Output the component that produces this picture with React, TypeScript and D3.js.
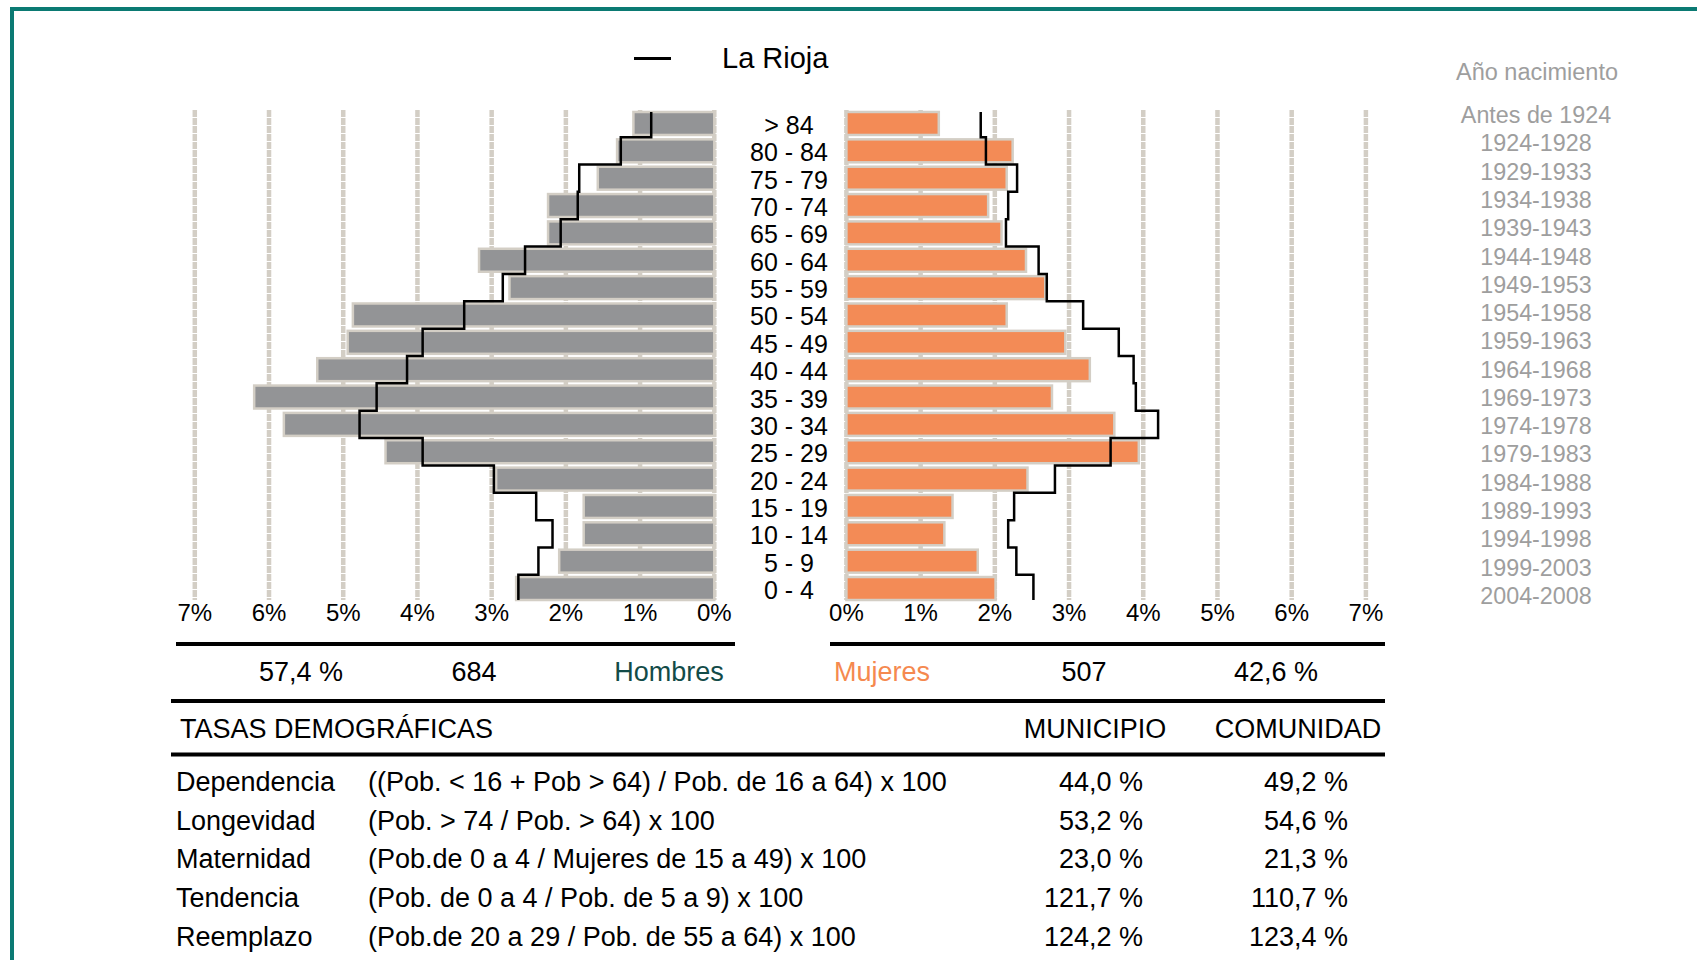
import React from "react";
import * as d3 from "d3";

const ages = ["> 84","80 - 84","75 - 79","70 - 74","65 - 69","60 - 64","55 - 59","50 - 54","45 - 49","40 - 44","35 - 39","30 - 34","25 - 29","20 - 24","15 - 19","10 - 14","5 - 9","0 - 4"];
const birthYears = ["Antes de 1924","1924-1928","1929-1933","1934-1938","1939-1943","1944-1948","1949-1953","1954-1958","1959-1963","1964-1968","1969-1973","1974-1978","1979-1983","1984-1988","1989-1993","1994-1998","1999-2003","2004-2008"];
const male = [1.09,1.31,1.57,2.24,2.24,3.17,2.76,4.87,4.94,5.35,6.20,5.80,4.43,2.94,1.76,1.76,2.09,2.67];
const female = [1.245,2.24,2.16,1.91,2.09,2.42,2.68,2.16,2.95,3.28,2.77,3.61,3.94,2.44,1.43,1.32,1.77,2.01];
const maleRef = [0.85,1.26,1.82,1.84,2.07,2.55,2.85,3.37,3.93,4.14,4.55,4.78,3.93,2.97,2.40,2.18,2.37,2.64];
const femaleRef = [1.81,1.88,2.30,2.18,2.15,2.59,2.70,3.19,3.67,3.87,3.90,4.20,3.56,2.81,2.26,2.18,2.29,2.52];
const ticks = [0,1,2,3,4,5,6,7];
const refName = "La Rioja";
const summaryMale = { pct: "57,4 %", count: "684", label: "Hombres" };
const summaryFemale = { pct: "42,6 %", count: "507", label: "Mujeres" };
const rateNames = ["Dependencia","Longevidad","Maternidad","Tendencia","Reemplazo"];
const rateFormulas = ["((Pob. < 16 + Pob > 64) / Pob. de 16 a 64) x 100","(Pob. > 74 / Pob. > 64) x 100","(Pob.de 0 a 4 / Mujeres de 15 a 49) x 100","(Pob. de 0 a 4 / Pob. de 5 a 9) x 100","(Pob.de 20 a 29 / Pob. de 55 a 64) x 100"];
const rateMunicipio = ["44,0 %","53,2 %","23,0 %","121,7 %","124,2 %"];
const rateComunidad = ["49,2 %","54,6 %","21,3 %","110,7 %","123,4 %"];

const FONT = "'Liberation Sans', Arial, Helvetica, sans-serif";
const TEAL = "#0b7a73";
const GRID = "#d3cec5";
const GRAY = "#939496";
const ORANGE = "#f38b56";

export default function App() {
  const W = 1697, H = 960;
  const xL = d3.scaleLinear().domain([0, 7]).range([714.3, 194.8]);
  const xR = d3.scaleLinear().domain([0, 7]).range([846.4, 1365.9]);
  const y = d3.scaleBand<string>().domain(ages).range([109.8, 602.2]).paddingInner(0.16).paddingOuter(0.08);
  const yYear = d3.scalePoint<string>().domain(birthYears).range([114.7, 595.3]);
  const bw = y.bandwidth();
  const step = y.step();

  const stepPath = (vals: number[], xs: d3.ScaleLinear<number, number>) => {
    const pts: [number, number][] = [];
    vals.forEach((v, i) => {
      const c = (y(ages[i]) as number) + bw / 2;
      const top = i === 0 ? (y(ages[i]) as number) : c - step / 2;
      const bot = i === vals.length - 1 ? (y(ages[i]) as number) + bw : c + step / 2;
      pts.push([xs(v), top]);
      pts.push([xs(v), bot]);
    });
    return d3.line()(pts) as string;
  };

  const gridTop = 110, gridBot = 600;
  const tickY = 621;
  const fs = 27;

  return (
    <div style={{ position: "absolute", left: 0, top: 0 }}>
      <svg width={W} height={H} style={{ display: "block", background: "#fff" }} fontFamily={FONT}>
        <rect x={10} y={7} width={W - 10} height={4} fill={TEAL} />
        <rect x={10} y={7} width={4} height={H - 7} fill={TEAL} />

        <line x1={634} x2={671} y1={58.5} y2={58.5} stroke="#000" strokeWidth={3} />
        <text x={722} y={68} fontSize={29} fill="#000">{refName}</text>

        {ticks.map(t => (
          <g key={"g" + t}>
            <line x1={xL(t)} x2={xL(t)} y1={gridTop} y2={gridBot} stroke={GRID} strokeWidth={4.5} strokeDasharray="7 1" />
            <line x1={xR(t)} x2={xR(t)} y1={gridTop} y2={gridBot} stroke={GRID} strokeWidth={4.5} strokeDasharray="7 1" />
          </g>
        ))}

        {ages.map((a, i) => (
          <g key={"b" + a}>
            <rect x={xL(male[i])} y={y(a)} width={xL(0) - xL(male[i])} height={bw} fill={GRAY} stroke={GRID} strokeWidth={2.5} />
            <rect x={xR(0)} y={y(a)} width={xR(female[i]) - xR(0)} height={bw} fill={ORANGE} stroke={GRID} strokeWidth={2.5} />
            <text x={789} y={(y(a) as number) + bw / 2 + 10.5} fontSize={25} textAnchor="middle" fill="#000">{a}</text>
          </g>
        ))}

        <path d={stepPath(maleRef, xL)} fill="none" stroke="#000" strokeWidth={2.5} />
        <path d={stepPath(femaleRef, xR)} fill="none" stroke="#000" strokeWidth={2.5} />

        {ticks.map(t => (
          <g key={"t" + t}>
            <text x={xL(t)} y={tickY} fontSize={24} textAnchor="middle" fill="#000">{t + "%"}</text>
            <text x={xR(t)} y={tickY} fontSize={24} textAnchor="middle" fill="#000">{t + "%"}</text>
          </g>
        ))}

        <text x={1537} y={79.5} fontSize={23.5} textAnchor="middle" fill="#9e9e9e">Año nacimiento</text>
        {birthYears.map(b => (
          <text key={b} x={1536} y={(yYear(b) as number) + 8.5} fontSize={23.3} textAnchor="middle" fill="#9e9e9e">{b}</text>
        ))}

        <line x1={176} x2={735} y1={644} y2={644} stroke="#000" strokeWidth={4} />
        <line x1={830} x2={1385} y1={644} y2={644} stroke="#000" strokeWidth={4} />
        <text x={301} y={680.5} fontSize={fs} textAnchor="middle" fill="#000">{summaryMale.pct}</text>
        <text x={474} y={680.5} fontSize={fs} textAnchor="middle" fill="#000">{summaryMale.count}</text>
        <text x={669} y={680.5} fontSize={fs} textAnchor="middle" fill="#124b48">{summaryMale.label}</text>
        <text x={882} y={680.5} fontSize={fs} textAnchor="middle" fill="#f5894f">{summaryFemale.label}</text>
        <text x={1084} y={680.5} fontSize={fs} textAnchor="middle" fill="#000">{summaryFemale.count}</text>
        <text x={1276} y={680.5} fontSize={fs} textAnchor="middle" fill="#000">{summaryFemale.pct}</text>
        <line x1={171} x2={1385} y1={701} y2={701} stroke="#000" strokeWidth={4} />

        <text x={180} y={737.5} fontSize={fs} fill="#000">TASAS DEMOGRÁFICAS</text>
        <text x={1095} y={737.5} fontSize={fs} textAnchor="middle" fill="#000">MUNICIPIO</text>
        <text x={1298} y={737.5} fontSize={fs} textAnchor="middle" fill="#000">COMUNIDAD</text>
        <line x1={171} x2={1385} y1={754.5} y2={754.5} stroke="#000" strokeWidth={4} />

        {rateNames.map((n, i) => {
          const cy = 781.4 + i * 38.7 + 9.5;
          return (
            <g key={n}>
              <text x={176} y={cy} fontSize={fs} fill="#000">{n}</text>
              <text x={368} y={cy} fontSize={fs} fill="#000">{rateFormulas[i]}</text>
              <text x={1143} y={cy} fontSize={fs} textAnchor="end" fill="#000">{rateMunicipio[i]}</text>
              <text x={1348} y={cy} fontSize={fs} textAnchor="end" fill="#000">{rateComunidad[i]}</text>
            </g>
          );
        })}
      </svg>
    </div>
  );
}
